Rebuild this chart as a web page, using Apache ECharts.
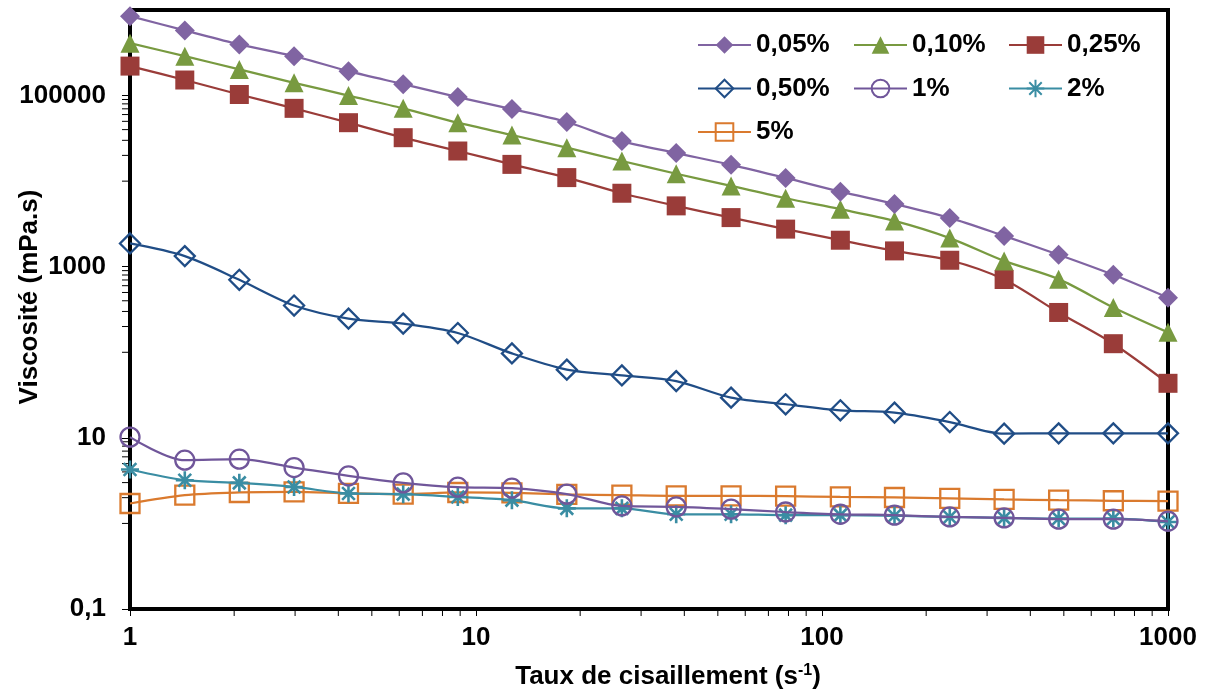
<!DOCTYPE html>
<html>
<head>
<meta charset="utf-8">
<script src="https://cdn.jsdelivr.net/npm/echarts@6/dist/echarts.min.js"></script>
<style>
html,body{margin:0;padding:0;background:#fff;}
#chart{width:1205px;height:697px;}
</style>
</head>
<body>
<div id="chart"></div>
<script>
// ---- data ----
const shearRate = [1, 1.44, 2.07, 2.98, 4.28, 6.16, 8.86, 12.7, 18.3, 26.4, 37.9, 54.6, 78.5, 113, 162, 234, 336, 483, 695, 1000];
const seriesNames = ['0,05%', '0,10%', '0,25%', '0,50%', '1%', '2%', '5%'];
const v005 = [847000, 577000, 396000, 289000, 193000, 136000, 96000, 69600, 49100, 29400, 21300, 15500, 10900, 7540, 5420, 3720, 2290, 1380, 804, 434];
const v010 = [410000, 289000, 202000, 141000, 100000, 70900, 48200, 34600, 24600, 17200, 12200, 8790, 6310, 4700, 3430, 2160, 1170, 716, 334, 171];
const v025 = [221000, 152000, 103000, 70900, 48200, 32200, 22500, 15700, 11000, 7220, 5140, 3750, 2750, 2040, 1530, 1190, 709, 292, 126, 43.4];
const v050 = [1870, 1330, 703, 352, 247, 216, 168, 97, 62.7, 53.7, 46.1, 29.5, 24.7, 21.0, 19.7, 15.3, 11.2, 11.3, 11.3, 11.3];
const v1 = [10.2, 5.48, 5.63, 4.50, 3.59, 2.98, 2.65, 2.58, 2.20, 1.60, 1.56, 1.47, 1.36, 1.28, 1.25, 1.19, 1.16, 1.12, 1.12, 1.06];
const v2 = [4.27, 3.20, 2.98, 2.67, 2.24, 2.20, 2.04, 1.87, 1.50, 1.50, 1.28, 1.28, 1.25, 1.25, 1.23, 1.19, 1.16, 1.14, 1.14, 1.04];
const v5 = [1.71, 2.14, 2.30, 2.34, 2.24, 2.20, 2.30, 2.28, 2.18, 2.14, 2.10, 2.10, 2.08, 2.04, 2.01, 1.96, 1.91, 1.87, 1.84, 1.82];
// tick positions
const xMinorTicks = [2, 3, 4, 5, 6, 7, 8, 9, 20, 30, 40, 50, 60, 70, 80, 90, 200, 300, 400, 500, 600, 700, 800, 900];
const yMinorTicks = [1, 2, 3, 4, 5, 6, 7, 8, 9, 100, 200, 300, 400, 500, 600, 700, 800, 900, 10000, 20000, 30000, 40000, 50000, 60000, 70000, 80000, 90000];
const xTitle = 'Taux de cisaillement (s';
const yTitle = 'Viscosité (mPa.s)';

const FONT = '"Liberation Sans", Arial, sans-serif';
const asterisk = 'path://M8 0 L8 16 M0 8 L16 8 M2.34 2.34 L13.66 13.66 M2.34 13.66 L13.66 2.34';

const styles = [
  {c: '#8064A2', symbol: 'diamond', size: 20, filled: true},
  {c: '#789A40', symbol: 'triangle', size: 19, filled: true},
  {c: '#9A3C39', symbol: 'rect', size: 19, filled: true},
  {c: '#204D86', symbol: 'diamond', size: 20, filled: false},
  {c: '#70569A', symbol: 'circle', size: 19, filled: false},
  {c: '#3A8DA3', symbol: asterisk, size: 18, filled: false},
  {c: '#DA7A2E', symbol: 'rect', size: 19, filled: false}
];
const values = [v005, v010, v025, v050, v1, v2, v5];

function pairs(v) { return shearRate.map((x, i) => [x, v[i]]); }

const lineSeries = values.map((v, k) => {
  const s = styles[k];
  return {
    name: seriesNames[k],
    type: 'line',
    data: pairs(v),
    smooth: 0.3,
    symbol: s.symbol,
    symbolSize: s.size,
    showAllSymbol: true,
    clip: false,
    z: 10 - k,
    lineStyle: {color: s.c, width: 2.25},
    itemStyle: s.filled
      ? {color: s.c, borderColor: s.c, borderWidth: 0}
      : {color: 'rgba(255,255,255,0)', borderColor: s.c, borderWidth: k === 5 ? 2.6 : 2.3},
    emphasis: {disabled: true}
  };
});

const tickSeries = [
  {
    type: 'custom', silent: true, clip: false, z: 1,
    data: yMinorTicks.map(v => [1, v]),
    renderItem: function (params, api) {
      const p = api.coord([api.value(0), api.value(1)]);
      return {type: 'line', shape: {x1: p[0] - 8, y1: p[1], x2: p[0], y2: p[1]}, style: {stroke: '#000', lineWidth: 1}};
    }
  },
  {
    type: 'custom', silent: true, clip: false, z: 1,
    data: xMinorTicks.map(v => [v, 0.1]),
    renderItem: function (params, api) {
      const p = api.coord([api.value(0), api.value(1)]);
      return {type: 'line', shape: {x1: p[0], y1: p[1], x2: p[0], y2: p[1] + 7}, style: {stroke: '#000', lineWidth: 1}};
    }
  }
];

const legendCommon = {
  orient: 'vertical', top: 32, padding: 0, itemGap: 17.5,
  itemWidth: 53, itemHeight: 22,
  selectedMode: false,
  textStyle: {fontSize: 26, fontWeight: 'bold', color: '#000', fontFamily: FONT}
};

const chart = echarts.init(document.getElementById('chart'), null, {renderer: 'canvas'});
chart.setOption({
  animation: false,
  backgroundColor: '#fff',
  grid: {left: 130, right: 37, top: 10, bottom: 88, show: true, borderColor: '#000', borderWidth: 4, backgroundColor: 'transparent'},
  legend: [
    Object.assign({}, legendCommon, {left: 697, data: ['0,05%', '0,50%', '5%']}),
    Object.assign({}, legendCommon, {left: 853, data: ['0,10%', '1%']}),
    Object.assign({}, legendCommon, {left: 1008, data: ['0,25%', '2%']})
  ],
  xAxis: {
    type: 'log', logBase: 10, min: 1, max: 1000, interval: 1,
    axisLine: {lineStyle: {color: '#000', width: 4}},
    axisTick: {show: true, inside: false, length: 7, lineStyle: {color: '#000', width: 1}},
    minorTick: {show: false},
    splitLine: {show: false},
    axisLabel: {fontSize: 26, fontWeight: 'bold', color: '#000', fontFamily: FONT, margin: 16,
      formatter: v => String(v).replace('.', ',')}
  },
  yAxis: {
    type: 'log', logBase: 10, min: 0.1, max: 1000000, interval: 2,
    axisLine: {lineStyle: {color: '#000', width: 4}},
    axisTick: {show: true, inside: false, length: 8, lineStyle: {color: '#000', width: 1}},
    minorTick: {show: false},
    splitLine: {show: false},
    axisLabel: {fontSize: 26, fontWeight: 'bold', color: '#000', fontFamily: FONT, margin: 24, showMaxLabel: false,
      formatter: v => (v >= 999999 ? '' : String(v).replace('.', ','))}
  },
  graphic: [
    {
      type: 'text', x: 30, y: 297, rotation: Math.PI / 2,
      style: {text: yTitle, fill: '#000', font: 'bold 26px ' + FONT, textAlign: 'center', textVerticalAlign: 'middle'}
    },
    {
      type: 'text', x: 668, y: 677,
      style: {
        text: '{a|' + xTitle + '}{b|-1}{a|)}',
        textAlign: 'center', textVerticalAlign: 'middle',
        rich: {
          a: {fontSize: 26, fontWeight: 'bold', fontFamily: FONT, fill: '#000', lineHeight: 28},
          b: {fontSize: 16, fontWeight: 'bold', fontFamily: FONT, fill: '#000', verticalAlign: 'top', lineHeight: 16}
        }
      }
    }
  ],
  series: tickSeries.concat(lineSeries)
});
</script>
</body>
</html>
